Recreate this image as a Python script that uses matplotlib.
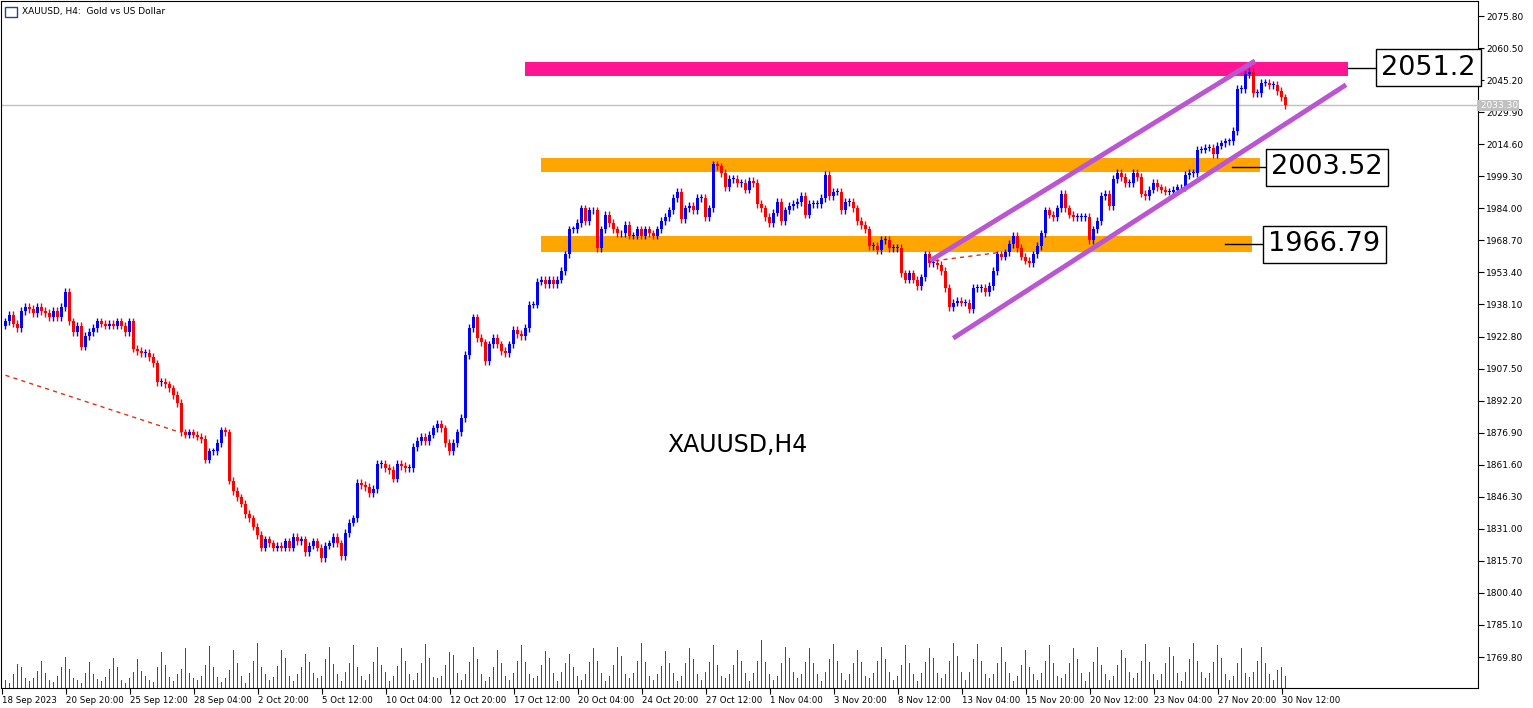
import matplotlib
matplotlib.use("Agg")
import matplotlib.pyplot as plt
from matplotlib.patches import Rectangle

closes = [1930,1933,1929,1927,1935,1937,1936,1934,1937,1935,1934,1932,1935,1932,1937,
          1944,1930,
          1925,1928,1918,1923,1925,1927,1930,1929,1928,
          1929,1928,1930,1928,1925,1930,1917,1916,1915,1915,
          1913,1910,1901,1901,1900,1898,1895,1891,1877,1876,
          1877,1876,1875,1874,1864,1868,1868,1872,1878,1877,
          1854,1849,1846,1843,1838,1836,1832,1828,1822,1826,
          1824,1822,1823,1822,1825,1822,1827,1825,1826,1820,
          1823,1825,1822,1817,1823,1824,1827,1824,1818,1829,
          1834,1836,1853,1852,1851,1848,1850,1862,1862,1860,
          1859,1855,1862,1861,1860,1860,1870,1873,1875,1873,
          1876,1879,1881,1879,1872,1868,1872,1877,1884,1914,
          1927,1932,1922,1920,1911,1919,1922,1919,1916,1915,
          1919,1926,1924,1923,1927,1938,1938,1949,1950,1948,
          1950,1948,1950,1954,1962,1974,1974,1977,1984,1978,
          1983,1983,1965,1974,1981,1977,1974,1972,1972,1976,
          1971,1971,1974,1971,1974,1972,1971,1974,1978,1980,
          1983,1989,1992,1979,1984,1985,1983,1989,1989,1980,
          1984,2005,2004,2001,1994,1998,1998,1996,1996,1993,
          1997,1996,1986,1984,1980,1977,1982,1987,1978,1983,
          1985,1986,1987,1990,1981,1986,1986,1986,1989,2000,
          1990,1992,1992,1983,1987,1987,1984,1978,1976,1974,
          1966,1966,1964,1969,1969,1965,1965,1965,1953,1950,
          1953,1950,1947,1951,1962,1958,1958,1957,1954,1946,
          1937,1939,1940,1939,1939,1936,1946,1946,1946,1944,
          1947,1954,1962,1961,1963,1967,1971,1965,1961,1959,
          1958,1962,1966,1972,1983,1981,1980,1984,1991,1984,
          1981,1980,1980,1980,1980,1969,1974,1978,1990,1991,
          1985,1998,2001,1999,1996,1996,2001,1999,1991,1990,
          1993,1996,1994,1993,1992,1992,1993,1994,1994,2000,
          2001,2001,2012,2012,2013,2013,2010,2014,2015,2016,
          2016,2021,2041,2041,2048,2049,2039,2039,2044,2044,
          2043,2043,2040,2037,2033.3]

volumes = [12,8,20,35,30,15, 10,14,25,40,22,12, 9,18,30,45,28,14, 11,7,22,38,20,13,
           10,16,27,44,30,12, 8,15,24,42,25,18, 12,9,30,52,34,16, 10,20,28,58,22,14,
           12,18,34,61,30,16, 9,14,26,55,36,18, 8,22,40,66,30,20, 12,16,32,56,44,18,
           10,20,30,50,38,22, 14,18,42,60,35,20, 10,24,36,62,30,18, 12,20,38,60,34,24,
           10,18,32,58,40,20, 12,22,36,64,44,16, 14,18,34,52,48,22, 12,20,38,60,42,20,
           10,16,30,56,36,18, 12,22,40,62,38,20, 14,18,34,54,44,22, 10,24,36,50,30,18,
           12,20,38,58,40,22, 10,18,34,60,46,20, 14,22,40,66,38,18, 12,20,32,54,36,22,
           10,18,36,58,42,20, 12,24,38,62,34,18, 14,20,34,56,40,22, 10,22,40,70,38,20,
           12,18,36,60,44,24, 14,20,38,58,36,20, 10,24,42,64,40,22, 12,20,36,56,38,18,
           14,22,40,60,42,24, 12,18,34,62,36,20, 10,22,38,58,44,22, 14,20,40,66,46,24,
           12,24,42,64,40,20, 14,20,36,60,38,22, 10,18,34,56,30,20, 12,22,40,62,36,18,
           14,20,36,58,42,22, 10,24,38,60,34,20, 12,18,34,56,44,24, 14,22,40,64,38,20,
           12,20,36,60,46,22, 10,24,42,66,40,24, 14,22,38,62,44,20, 12,18,36,58,22,
           16,24,40,60,36,20, 12,26,30,18]

last_price = 2033.30
zone_top = (2047.3, 2053.9)
zone_mid = (2001.5, 2008.2)
zone_low = (1963.4, 1971.0)
zone_labels = ["2051.2", "2003.52", "1966.79"]
date_labels = ["18 Sep 2023","20 Sep 20:00","25 Sep 12:00","28 Sep 04:00","2 Oct 20:00",
               "5 Oct 12:00","10 Oct 04:00","12 Oct 20:00","17 Oct 12:00","20 Oct 04:00",
               "24 Oct 20:00","27 Oct 12:00","1 Nov 04:00","3 Nov 20:00","8 Nov 12:00",
               "13 Nov 04:00","15 Nov 20:00","20 Nov 12:00","23 Nov 04:00","27 Nov 20:00",
               "30 Nov 12:00"]
price_ticks = [2075.80,2060.50,2045.20,2029.90,2014.60,1999.30,1984.00,1968.70,1953.40,
               1938.10,1922.80,1907.50,1892.20,1876.90,1861.60,1846.30,1831.00,1815.70,
               1800.40,1785.10,1769.80]

W, H = 1533, 708
fig = plt.figure(figsize=(W/100, H/100), dpi=100)
ax = fig.add_axes([0.5/W, 20/H, 1477.5/W, 687/H])
def px(xp):
    return (xp - 5) / 4.0
ax.set_xlim(px(0), px(1478))
ax.set_ylim(1755.0, 2083.0)

axv = ax.twinx()
axv.set_ylim(0, 1000)
axv.set_yticks([])
n = len(closes)
nv = min(len(volumes), n)
axv.vlines(range(nv), 0, volumes[:nv], color="#008000", lw=0.72, antialiased=False)
axv.set_zorder(0)
ax.set_zorder(1); ax.patch.set_visible(False)

def zone(x0, x1, lo, hi, c):
    ax.add_patch(Rectangle((px(x0), lo), px(x1) - px(x0), hi - lo, color=c, zorder=2, lw=0))
zone(525, 1348, *zone_top, "#FF1493")
zone(541, 1260, *zone_mid, "#FFA500")
zone(541, 1252, *zone_low, "#FFA500")

opens = [closes[0] - 2] + closes[:-1]
for i in range(n):
    o, c = opens[i], closes[i]
    up = c >= o
    col = "#0000FF" if up else "#FF0000"
    lo, hi = min(o, c), max(o, c)
    ax.vlines(i, lo - 1.8, hi + 1.8, color=col, lw=1, zorder=4)
    ax.add_patch(Rectangle((i - 0.38, lo), 0.76, max(hi - lo, 0.4), color=col, lw=0, zorder=5))

ax.axhline(last_price, color="#C0C0C0", lw=1, zorder=1)

ax.plot([px(930), px(1255)], [1959.0, 2054.4], color="#BA55D3", lw=3.5, zorder=6, solid_capstyle="butt")
ax.plot([px(953), px(1346)], [1922.0, 2043.0], color="#BA55D3", lw=3.5, zorder=6, solid_capstyle="butt")

ax.plot([px(5), px(180)], [1904.3, 1877.0], color="#E03010", lw=1, ls=(0, (3, 3)), zorder=3)
ax.plot([px(935), px(1000)], [1959.0, 1963.0], color="#E03010", lw=1, ls=(0, (3, 3)), zorder=3)

for (x0, x1, lvl, txt) in [(1348, 1375, 2051.2, zone_labels[0]),
                            (1232, 1265, 2003.52, zone_labels[1]),
                            (1225, 1262, 1966.79, zone_labels[2])]:
    ax.plot([px(x0), px(x1)], [lvl, lvl], color="black", lw=1, zorder=7)
    ax.text(px(x1) + 1.5, lvl, txt, fontsize=19.5, va="center", ha="left", zorder=8,
            bbox=dict(boxstyle="square,pad=0.2", fc="white", ec="black", lw=1), clip_on=False)

ax.text(px(737), 1871, "XAUUSD,H4", fontsize=17, ha="center", va="center", zorder=8)
ax.text(px(22), 2077.8, "XAUUSD, H4:  Gold vs US Dollar", fontsize=6.5, ha="left", va="center", zorder=8)
ax.add_patch(Rectangle((px(5), 2075.3), 3, 5, fc="white", ec="#304080", lw=1, zorder=8))

ax.yaxis.tick_right()
ax.set_yticks(price_ticks)
ax.set_yticklabels([f"{v:.2f}" for v in price_ticks], fontsize=6.5)
ax.tick_params(axis="y", direction="out", length=4, pad=2)
ticks = [16 * k - 0.75 for k in range(len(date_labels))]
ax.set_xticks(ticks)
ax.set_xticklabels(date_labels, fontsize=6.2, ha="left")
ax.tick_params(axis="x", direction="out", length=4, pad=2)
ax.text(1.0, last_price, " 2033.30", transform=ax.get_yaxis_transform(), fontsize=6.5, color="white",
        va="center", ha="left", zorder=9,
        bbox=dict(boxstyle="square,pad=0.1", fc="#C0C0C0", ec="none"), clip_on=False)
for s in ax.spines.values():
    s.set_color("black")
for s in axv.spines.values():
    s.set_visible(False)

fig.savefig("out.png", dpi=100, facecolor="white")
